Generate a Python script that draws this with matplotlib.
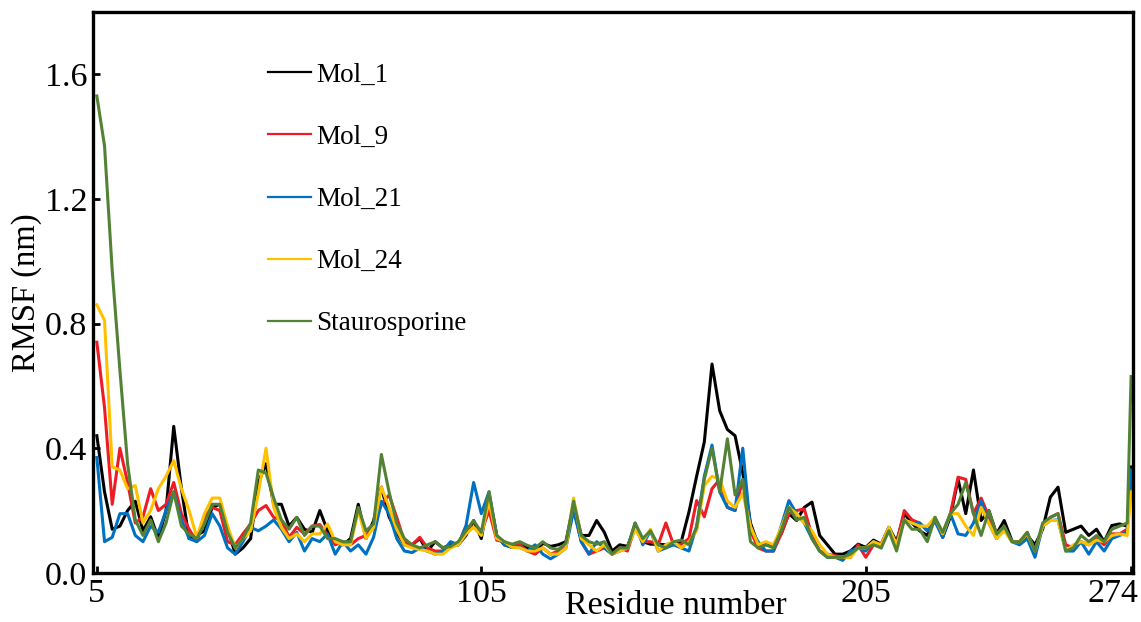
import matplotlib
matplotlib.use("Agg")
import matplotlib.pyplot as plt
import matplotlib.transforms as mtrans
import numpy as np

plt.rcParams['font.family'] = ['Liberation Serif', 'DejaVu Serif']

# residue numbers (every second residue, plus the last one)
residues = list(range(5, 274, 2)) + [274]

mol_1 = [
    0.44, 0.26, 0.14, 0.15, 0.20, 0.23, 0.135, 0.18, 0.11, 0.20,
    0.47, 0.27, 0.11, 0.12, 0.135, 0.21, 0.22, 0.145, 0.06, 0.08,
    0.11, 0.29, 0.35, 0.22, 0.22, 0.15, 0.178, 0.14, 0.13, 0.20,
    0.135, 0.10, 0.09, 0.11, 0.22, 0.11, 0.168, 0.275, 0.18, 0.13,
    0.09, 0.09, 0.11, 0.07, 0.10, 0.08, 0.09, 0.09, 0.12, 0.168,
    0.11, 0.25, 0.12, 0.09, 0.082, 0.09, 0.08, 0.07, 0.095, 0.085,
    0.09, 0.10, 0.22, 0.12, 0.12, 0.168, 0.13, 0.07, 0.09, 0.085,
    0.146, 0.10, 0.092, 0.092, 0.09, 0.098, 0.10, 0.195, 0.31, 0.42,
    0.67, 0.52, 0.46, 0.44, 0.32, 0.16, 0.09, 0.09, 0.09, 0.125,
    0.19, 0.168, 0.21, 0.227, 0.12, 0.09, 0.06, 0.06, 0.07, 0.092,
    0.082, 0.105, 0.092, 0.146, 0.10, 0.19, 0.16, 0.135, 0.12, 0.178,
    0.114, 0.18, 0.30, 0.19, 0.33, 0.168, 0.20, 0.125, 0.168, 0.103,
    0.092, 0.12, 0.09, 0.14, 0.243, 0.275, 0.13, 0.14, 0.15, 0.12,
    0.14, 0.10, 0.152, 0.157, 0.15, 0.34,
]

mol_9 = [
    0.74, 0.53, 0.22, 0.40, 0.29, 0.16, 0.18, 0.27, 0.20, 0.22,
    0.29, 0.19, 0.14, 0.10, 0.18, 0.21, 0.20, 0.10, 0.09, 0.125,
    0.157, 0.20, 0.216, 0.178, 0.17, 0.114, 0.146, 0.125, 0.15, 0.155,
    0.12, 0.09, 0.10, 0.09, 0.11, 0.12, 0.146, 0.22, 0.25, 0.178,
    0.10, 0.09, 0.114, 0.08, 0.07, 0.07, 0.085, 0.09, 0.15, 0.146,
    0.13, 0.20, 0.105, 0.10, 0.082, 0.09, 0.07, 0.06, 0.08, 0.06,
    0.07, 0.092, 0.21, 0.10, 0.06, 0.07, 0.08, 0.06, 0.08, 0.07,
    0.146, 0.10, 0.10, 0.09, 0.16, 0.09, 0.092, 0.11, 0.232, 0.18,
    0.27, 0.30, 0.21, 0.20, 0.30, 0.135, 0.08, 0.07, 0.07, 0.125,
    0.19, 0.20, 0.205, 0.12, 0.07, 0.06, 0.055, 0.05, 0.05, 0.09,
    0.05, 0.09, 0.092, 0.14, 0.092, 0.20, 0.17, 0.16, 0.135, 0.17,
    0.125, 0.19, 0.307, 0.30, 0.19, 0.24, 0.18, 0.12, 0.145, 0.10,
    0.10, 0.13, 0.06, 0.15, 0.178, 0.19, 0.09, 0.08, 0.10, 0.09,
    0.11, 0.09, 0.125, 0.125, 0.14, 0.30,
]

mol_21 = [
    0.37, 0.10, 0.114, 0.19, 0.19, 0.12, 0.10, 0.15, 0.13, 0.20,
    0.26, 0.17, 0.11, 0.10, 0.12, 0.19, 0.15, 0.08, 0.06, 0.10,
    0.146, 0.135, 0.15, 0.17, 0.14, 0.10, 0.13, 0.07, 0.11, 0.10,
    0.125, 0.06, 0.10, 0.07, 0.09, 0.06, 0.115, 0.23, 0.19, 0.11,
    0.07, 0.065, 0.08, 0.07, 0.06, 0.07, 0.10, 0.09, 0.15, 0.29,
    0.19, 0.26, 0.12, 0.09, 0.082, 0.082, 0.07, 0.09, 0.06, 0.045,
    0.06, 0.08, 0.20, 0.10, 0.06, 0.10, 0.08, 0.06, 0.07, 0.08,
    0.16, 0.09, 0.135, 0.07, 0.08, 0.09, 0.08, 0.07, 0.15, 0.31,
    0.41, 0.26, 0.21, 0.20, 0.40, 0.14, 0.10, 0.07, 0.07, 0.15,
    0.232, 0.19, 0.16, 0.11, 0.07, 0.05, 0.05, 0.04, 0.07, 0.08,
    0.07, 0.10, 0.08, 0.146, 0.09, 0.17, 0.16, 0.16, 0.135, 0.165,
    0.114, 0.19, 0.125, 0.12, 0.16, 0.23, 0.16, 0.11, 0.145, 0.10,
    0.09, 0.11, 0.05, 0.15, 0.168, 0.17, 0.07, 0.07, 0.10, 0.06,
    0.10, 0.07, 0.11, 0.12, 0.13, 0.33,
]

mol_24 = [
    0.86, 0.81, 0.34, 0.33, 0.27, 0.28, 0.16, 0.20, 0.27, 0.31,
    0.36, 0.27, 0.20, 0.114, 0.19, 0.24, 0.24, 0.15, 0.08, 0.11,
    0.135, 0.255, 0.40, 0.21, 0.146, 0.11, 0.125, 0.10, 0.125, 0.125,
    0.157, 0.10, 0.09, 0.09, 0.20, 0.11, 0.146, 0.275, 0.21, 0.14,
    0.09, 0.08, 0.075, 0.07, 0.06, 0.06, 0.08, 0.09, 0.125, 0.146,
    0.12, 0.23, 0.11, 0.10, 0.082, 0.08, 0.07, 0.07, 0.08, 0.06,
    0.06, 0.08, 0.24, 0.11, 0.09, 0.07, 0.09, 0.06, 0.07, 0.08,
    0.14, 0.10, 0.14, 0.07, 0.09, 0.10, 0.08, 0.10, 0.135, 0.28,
    0.31, 0.30, 0.23, 0.21, 0.255, 0.15, 0.09, 0.10, 0.09, 0.146,
    0.21, 0.19, 0.16, 0.135, 0.09, 0.06, 0.05, 0.05, 0.05, 0.08,
    0.08, 0.10, 0.09, 0.146, 0.09, 0.17, 0.16, 0.15, 0.15, 0.178,
    0.125, 0.19, 0.19, 0.15, 0.12, 0.21, 0.16, 0.11, 0.135, 0.10,
    0.10, 0.125, 0.07, 0.15, 0.168, 0.168, 0.07, 0.09, 0.10, 0.09,
    0.105, 0.10, 0.12, 0.125, 0.12, 0.26,
]

staurosporine = [
    1.53, 1.37, 0.97, 0.65, 0.35, 0.17, 0.12, 0.17, 0.10, 0.16,
    0.26, 0.15, 0.125, 0.11, 0.157, 0.22, 0.22, 0.13, 0.08, 0.11,
    0.16, 0.33, 0.32, 0.24, 0.17, 0.14, 0.178, 0.12, 0.15, 0.15,
    0.11, 0.11, 0.10, 0.10, 0.21, 0.135, 0.157, 0.38, 0.26, 0.16,
    0.11, 0.09, 0.08, 0.09, 0.10, 0.08, 0.085, 0.10, 0.135, 0.168,
    0.13, 0.26, 0.12, 0.10, 0.092, 0.10, 0.088, 0.08, 0.10, 0.08,
    0.075, 0.095, 0.23, 0.12, 0.10, 0.092, 0.10, 0.06, 0.08, 0.08,
    0.16, 0.11, 0.135, 0.09, 0.08, 0.10, 0.105, 0.09, 0.146, 0.30,
    0.40, 0.26, 0.43, 0.25, 0.30, 0.10, 0.08, 0.09, 0.08, 0.135,
    0.21, 0.17, 0.178, 0.11, 0.07, 0.05, 0.05, 0.05, 0.06, 0.08,
    0.08, 0.09, 0.08, 0.135, 0.07, 0.17, 0.14, 0.14, 0.10, 0.178,
    0.13, 0.19, 0.22, 0.29, 0.19, 0.12, 0.20, 0.125, 0.15, 0.10,
    0.10, 0.13, 0.07, 0.16, 0.178, 0.19, 0.07, 0.08, 0.12, 0.10,
    0.12, 0.10, 0.14, 0.15, 0.16, 0.63,
]

series_labels = ["Mol_1", "Mol_9", "Mol_21", "Mol_24", "Staurosporine"]
series_colors = ["#000000", "#ee1c25", "#0070c0", "#ffc000", "#548235"]
x_ticks = [5, 105, 205, 274]
y_ticks = [0.0, 0.4, 0.8, 1.2, 1.6]

fig = plt.figure(figsize=(11.41, 6.22), dpi=100)
ax = fig.add_axes([0.0815, 0.079, 0.9115, 0.902])

for vals, lab, col in zip([mol_1, mol_9, mol_21, mol_24, staurosporine],
                          series_labels, series_colors):
    ax.plot(residues, vals, color=col, lw=2.2, label=lab)

ax.set_xlim(4, 274.5)
ax.set_ylim(0, 1.8)
ax.set_xticks(x_ticks)
ax.set_xticklabels([str(t) for t in x_ticks])
ax.set_yticks(y_ticks)
ax.set_yticklabels([f"{t:.1f}" for t in y_ticks])
ax.tick_params(direction='in', length=5, width=2, labelsize=24.5)
ax.tick_params(axis='x', pad=4)
ax.tick_params(axis='y', pad=4)
for s in ax.spines.values():
    s.set_linewidth(2.4)

# last x tick label sits flush with the right edge, as in the original
last = ax.get_xticklabels()[-1]
last.set_horizontalalignment('right')
last.set_transform(last.get_transform() +
                   mtrans.ScaledTranslation(7 / 100, 0, fig.dpi_scale_trans))

fig.text(676 / 1141, 1 - 614 / 622, "Residue number", fontsize=24.5,
         ha='center', va='baseline')
ax.set_ylabel("RMSF (nm)", fontsize=23.5, labelpad=2)

leg = ax.legend(loc='upper left', bbox_to_anchor=(0.168, 0.909), frameon=False,
                fontsize=19.5, handlelength=1.6, handletextpad=0.2,
                labelspacing=1.37, borderpad=0, borderaxespad=0)
for h in leg.get_lines():
    h.set_linewidth(1.6)

fig.savefig("out.png", dpi=100)
